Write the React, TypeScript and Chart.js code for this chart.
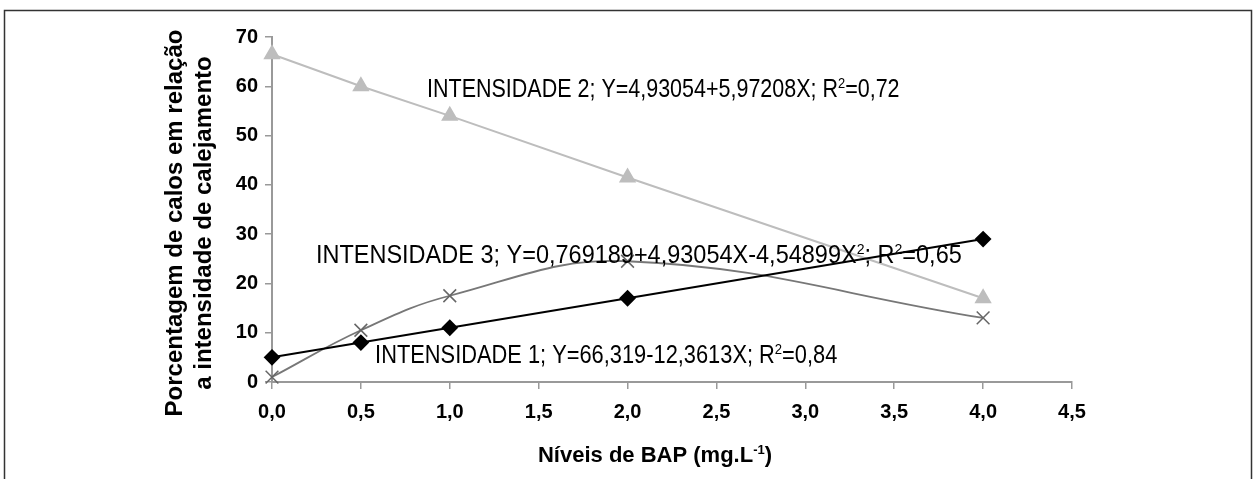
import React, { useEffect, useRef } from 'react';
import { Chart, registerables } from 'chart.js';

Chart.register(...registerables);

const bapLevels = [0, 0.5, 1, 2, 4];
const intensidade1 = [5, 8, 11, 17, 29];
const intensidade2 = [66.5, 60, 54, 41.5, 17];
const intensidade3 = [1, 10.5, 17.5, 24.5, 13];

const xTickLabels = ['0,0', '0,5', '1,0', '1,5', '2,0', '2,5', '3,0', '3,5', '4,0', '4,5'];
const yTickLabels = ['0', '10', '20', '30', '40', '50', '60', '70'];

const yTitleLines = ['Porcentagem de calos em relação', 'a intensidade de calejamento'];
const xTitle = 'Níveis de BAP (mg.L⁻¹)';

const equationLabels = [
  'INTENSIDADE 2; Y=4,93054+5,97208X; R²=0,72',
  'INTENSIDADE 3; Y=0,769189+4,93054X-4,54899X²; R²=0,65',
  'INTENSIDADE 1; Y=66,319-12,3613X; R²=0,84',
];
// label placement in data units: [xStart, xEnd, yBaseline]
const equationPlacement = [
  [0.872, 3.53, 57.8],
  [0.247, 3.88, 24.1],
  [0.58, 3.18, 3.85],
];

const FONT = '"Liberation Sans", Arial, sans-serif';
const SUP: Record<string, string> = { '²': '2', '¹': '1', '⁻': '-' };

function segments(text: string) {
  const segs: { t: string; sup: boolean }[] = [];
  for (const ch of text) {
    const sup = ch in SUP;
    const c = sup ? SUP[ch] : ch;
    const last = segs[segs.length - 1];
    if (last && last.sup === sup) last.t += c;
    else segs.push({ t: c, sup });
  }
  return segs;
}

function drawRich(
  ctx: CanvasRenderingContext2D,
  text: string,
  x: number,
  baseline: number,
  size: number,
  bold: boolean,
  align: 'left' | 'center',
  targetWidth?: number
) {
  const segs = segments(text);
  const w = bold ? 'bold ' : '';
  const fontFor = (sup: boolean) => `${w}${sup ? Math.round(size * 0.6) : size}px ${FONT}`;
  let total = 0;
  const widths = segs.map((s) => {
    ctx.font = fontFor(s.sup);
    const m = ctx.measureText(s.t).width;
    total += m;
    return m;
  });
  const sx = targetWidth ? targetWidth / total : 1;
  ctx.save();
  const startX = align === 'center' ? x - (total * sx) / 2 : x;
  ctx.translate(startX, baseline);
  ctx.scale(sx, 1);
  ctx.textAlign = 'left';
  ctx.textBaseline = 'alphabetic';
  ctx.fillStyle = '#000';
  let cx = 0;
  segs.forEach((s, i) => {
    ctx.font = fontFor(s.sup);
    ctx.fillText(s.t, cx, s.sup ? -size * 0.38 : 0);
    cx += widths[i];
  });
  ctx.restore();
}

const decorPlugin = {
  id: 'decor',
  afterDraw(chart: any) {
    const ctx: CanvasRenderingContext2D = chart.ctx;
    const xs = chart.scales.x;
    const ys = chart.scales.y;
    // frame
    ctx.save();
    ctx.strokeStyle = '#333';
    ctx.lineWidth = 1.5;
    ctx.strokeRect(4.5, 10.5, 1247, 600);
    ctx.restore();
    // equations
    equationLabels.forEach((txt, i) => {
      const [a, b, yv] = equationPlacement[i];
      const x0 = xs.getPixelForValue(a);
      const x1 = xs.getPixelForValue(b);
      const y = ys.getPixelForValue(yv);
      drawRich(ctx, txt, x0, y, 25, false, 'left', x1 - x0);
    });
    // x title
    drawRich(ctx, xTitle, 655, 462, 22, true, 'center');
    // y title
    ctx.save();
    ctx.translate(190, 223);
    ctx.rotate(-Math.PI / 2);
    ctx.font = `bold 24px ${FONT}`;
    ctx.fillStyle = '#000';
    ctx.textAlign = 'center';
    ctx.textBaseline = 'middle';
    ctx.fillText(yTitleLines[0], 0, -14.5);
    ctx.fillText(yTitleLines[1], 0, 14.5);
    ctx.restore();
  },
};

const toPoints = (ys: number[]) => bapLevels.map((x, i) => ({ x, y: ys[i] }));

export default function App() {
  const ref = useRef<HTMLCanvasElement>(null);
  useEffect(() => {
    if (!ref.current) return;
    const chart = new Chart(ref.current, {
      type: 'line',
      data: {
        datasets: [
          {
            label: 'Intensidade 1',
            data: toPoints(intensidade1),
            borderColor: '#000',
            backgroundColor: '#000',
            borderWidth: 2,
            pointStyle: 'rectRot',
            pointRadius: 7,
            pointBackgroundColor: '#000',
            pointBorderColor: '#000',
            tension: 0,
            clip: false,
          },
          {
            label: 'Intensidade 2',
            data: toPoints(intensidade2),
            borderColor: '#bdbdbd',
            backgroundColor: '#bdbdbd',
            borderWidth: 2,
            pointStyle: 'triangle',
            pointRadius: 8,
            pointBackgroundColor: '#bdbdbd',
            pointBorderColor: '#bdbdbd',
            tension: 0,
            clip: false,
          },
          {
            label: 'Intensidade 3',
            data: toPoints(intensidade3),
            borderColor: '#777',
            backgroundColor: '#777',
            borderWidth: 1.8,
            pointStyle: 'crossRot',
            pointRadius: 9,
            pointBorderWidth: 1.5,
            pointBorderColor: '#666',
            tension: 0.4,
            clip: false,
          },
        ] as any,
      },
      options: {
        animation: false,
        responsive: false,
        events: [],
        layout: { padding: { left: 0, top: 37, right: 181, bottom: 0 } },
        plugins: { legend: { display: false }, tooltip: { enabled: false } },
        scales: {
          x: {
            type: 'linear',
            min: 0,
            max: 4.5,
            afterFit: (s: any) => {
              s.height = 97;
            },
            afterBuildTicks: (s: any) => {
              s.ticks = xTickLabels.map((_, i) => ({ value: i * 0.5 }));
            },
            ticks: {
              autoSkip: false,
              maxRotation: 0,
              padding: 11,
              color: '#000',
              font: { family: FONT, size: 20, weight: 'bold' },
              callback: (_v: any, i: number) => xTickLabels[i],
            },
            grid: { drawOnChartArea: false, drawTicks: true, tickLength: 7, color: '#999', lineWidth: 1.5 },
            border: { color: '#999', width: 2 },
          },
          y: {
            type: 'linear',
            min: 0,
            max: 70,
            afterFit: (s: any) => {
              s.width = 272;
            },
            afterBuildTicks: (s: any) => {
              s.ticks = yTickLabels.map((_, i) => ({ value: i * 10 }));
            },
            ticks: {
              autoSkip: false,
              padding: 7,
              color: '#000',
              font: { family: FONT, size: 20, weight: 'bold' },
              callback: (_v: any, i: number) => yTickLabels[i],
            },
            grid: { drawOnChartArea: false, drawTicks: true, tickLength: 7, color: '#999', lineWidth: 1.5 },
            border: { color: '#999', width: 2 },
          },
        },
      } as any,
      plugins: [decorPlugin],
    });
    return () => chart.destroy();
  }, []);
  return (
    <div style={{ position: 'absolute', left: 0, top: 0, width: 1253, height: 479, background: '#fff' }}>
      <canvas ref={ref} width={1253} height={479} style={{ display: 'block' }} />
    </div>
  );
}
